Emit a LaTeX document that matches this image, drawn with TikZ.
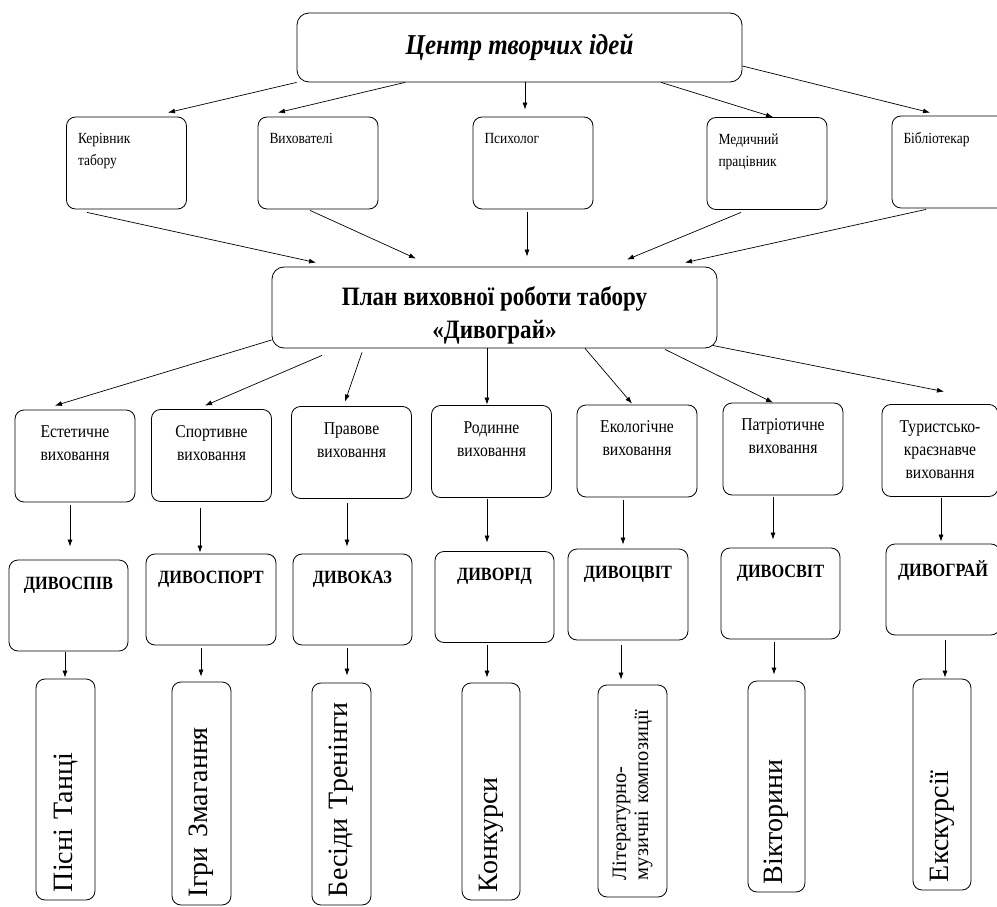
\documentclass[tikz,border=0pt]{standalone}
\usepackage{fontspec}
\setmainfont{Liberation Serif}[FakeStretch=0.87]
\newfontfamily\actfont{Liberation Serif}
\usetikzlibrary{arrows.meta}

\begin{document}
\begin{tikzpicture}[x=1pt,y=-1pt,
  box/.style={draw, line width=0.8pt, rounded corners=9pt, inner sep=0pt},
  head/.style={box, minimum width=445pt, rounded corners=12pt, align=center},
  staff/.style={box, minimum width=120pt, minimum height=92pt, font=\fontsize{15.5}{22.5}\selectfont,
    execute at begin node={\begin{minipage}[c][92pt][t]{97pt}\vspace*{16pt}\raggedright},
    execute at end node={\end{minipage}}},
  kind/.style={box, minimum width=120pt, minimum height=92pt, font=\fontsize{18}{23}\selectfont,
    execute at begin node={\begin{minipage}[c][92pt][t]{112pt}\vspace*{16pt}\centering},
    execute at end node={\end{minipage}}},
  club/.style={box, minimum width=119pt, minimum height=91pt, font=\bfseries\fontsize{18.7}{23}\selectfont,
    execute at begin node={\begin{minipage}[c][91pt][t]{112pt}\vspace*{17pt}\centering},
    execute at end node={\end{minipage}}},
  act/.style={box, rotate=90, inner xsep=8pt, text width=#1, align=left, minimum height=59pt,
    font=\actfont\fontsize{28}{30}\selectfont},
  arr/.style={-{Latex[length=7pt,width=5pt]}, line width=0.7pt}]
\path[use as bounding box, clip] (0,0) rectangle (997,907);

\node[head, minimum height=69pt, font=\bfseries\itshape\fontsize{28.75}{30}\selectfont] (centr) at (519.5,47.5) {Центр творчих ідей};

\node[staff] (kerivnyk) at (126.5,163) {Керівник\\табору};
\node[staff] (vykhovateli) at (318,163) {Вихователі};
\node[staff] (psykholoh) at (533,163) {Психолог};
\node[staff] (medyk) at (767,163.5) {Медичний\\працівник};
\node[staff] (bibliotekar) at (952,162) {Бібліотекар};

\node[head, minimum height=81pt, font=\bfseries\fontsize{26.5}{33}\selectfont,
  execute at begin node={\begin{minipage}[c][81pt][t]{440pt}\vspace*{20pt}\centering},
  execute at end node={\end{minipage}}] (plan) at (494.5,307.5) {План виховної роботи табору\\«Дивограй»};

\node[kind] (estet) at (75,456) {Естетичне\\виховання};
\node[kind] (sport) at (211.5,455.5) {Спортивне\\виховання};
\node[kind] (pravo) at (351.5,452.5) {Правове\\виховання};
\node[kind] (rodyna) at (491.5,451.5) {Родинне\\виховання};
\node[kind] (ekolog) at (637,451) {Екологічне\\виховання};
\node[kind] (patriot) at (783,449) {Патріотичне\\виховання};
\node[kind, minimum width=116pt] (turyst) at (940,450.5) {Туристсько-\\краєзнавче\\виховання};

\node[club] (dyvospiv) at (68.5,605.5) {ДИВОСПІВ};
\node[club, minimum width=130pt] (dyvosport) at (211,599.5) {ДИВОСПОРТ};
\node[club] (dyvokaz) at (352.5,599.5) {ДИВОКАЗ};
\node[club] (dyvorid) at (494.5,597) {ДИВОРІД};
\node[club, minimum width=120pt] (dyvotsvit) at (628,594.5) {ДИВОЦВІТ};
\node[club] (dyvosvit) at (780.5,593.5) {ДИВОСВІТ};
\node[club, minimum width=114pt] (dyvohrai) at (943,589.5) {ДИВОГРАЙ};

\node[act=205pt] (pisni) at (65.5,789.5) {Пісні Танці};
\node[act=207pt] (ihry) at (201.5,793.5) {Ігри Змагання};
\node[act=206pt] (besidy) at (341.5,794) {Бесіди Тренінги};
\node[act=201pt, minimum height=58pt] (konkursy) at (491,791.5) {Конкурси};
\node[act=194pt, inner xsep=9pt, minimum height=69pt, font=\actfont\fontsize{20.5}{22}\selectfont] (liter) at (632.5,791) {\hspace*{8pt}Літературно-\\\hspace*{8pt}музичні композиції};
\node[act=195pt, minimum height=57pt] (viktoryny) at (776.5,786.5) {Вікторини};
\node[act=195pt, minimum height=58pt] (ekskursii) at (942,784.5) {Екскурсії};

\draw[arr] (centr.south west) -- ([xshift=41.5pt,yshift=4pt]kerivnyk.north);
\draw[arr] ([xshift=-114.5pt]centr.south) -- ([xshift=-40pt,yshift=4pt]vykhovateli.north);
\draw[arr] ([xshift=5.5pt]centr.south) -- ([xshift=-8pt,yshift=7pt]psykholoh.north);
\draw[arr] ([xshift=141.5pt]centr.south) -- ([xshift=6pt]medyk.north);
\draw[arr] ([yshift=-18.5pt]centr.east) -- ([xshift=-22pt,yshift=3pt]bibliotekar.north);

\draw[arr] ([xshift=-39.5pt,yshift=-3pt]kerivnyk.south) -- ([xshift=-178.5pt,yshift=4pt]plan.north);
\draw[arr] ([xshift=-8pt,yshift=-1pt]vykhovateli.south) -- ([xshift=-78.5pt,yshift=8pt]plan.north);
\draw[arr] ([xshift=-6pt,yshift=-3pt]psykholoh.south) -- ([xshift=32.5pt,yshift=10pt]plan.north);
\draw[arr] ([xshift=-26pt,yshift=-2.5pt]medyk.south) -- ([xshift=132.5pt,yshift=7pt]plan.north);
\draw[arr] ([xshift=-26pt,yshift=-1pt]bibliotekar.south) -- ([xshift=190.5pt,yshift=4pt]plan.north);

\draw[arr] ([yshift=-32.5pt]plan.west) -- ([xshift=-20pt,yshift=4pt]estet.north);
\draw[arr] ([xshift=-172.5pt,yshift=-7pt]plan.south) -- ([xshift=-6.5pt,yshift=3.5pt]sport.north);
\draw[arr] ([xshift=-132.5pt,yshift=-4pt]plan.south) -- ([xshift=-6.5pt,yshift=4.5pt]pravo.north);
\draw[arr] ([xshift=-7.5pt]plan.south) -- ([xshift=-4.5pt,yshift=0.5pt]rodyna.north);
\draw[arr] ([xshift=90.5pt]plan.south) -- ([xshift=-5pt,yshift=1pt]ekolog.north);
\draw[arr] ([xshift=170.5pt,yshift=-1pt]plan.south) -- ([xshift=-10pt]patriot.north);
\draw[arr] ([xshift=-5pt,yshift=3pt]plan.south east) -- ([xshift=4pt,yshift=12.5pt]turyst.north);

\draw[arr] ([xshift=-5pt,yshift=-3pt]estet.south) -- ([xshift=1.5pt,yshift=13pt]dyvospiv.north);
\draw[arr] ([xshift=-11.5pt,yshift=-6.5pt]sport.south) -- ([xshift=-11pt,yshift=1pt]dyvosport.north);
\draw[arr] ([xshift=-4.5pt,yshift=-4.5pt]pravo.south) -- ([xshift=-5.5pt,yshift=7pt]dyvokaz.north);
\draw[arr] ([xshift=-4.5pt,yshift=-1.5pt]rodyna.south) -- ([xshift=-7.5pt,yshift=8.5pt]dyvorid.north);
\draw[arr] ([xshift=-14pt,yshift=-3pt]ekolog.south) -- ([xshift=-5pt,yshift=4pt]dyvotsvit.north);
\draw[arr] ([xshift=-10pt,yshift=-2pt]patriot.south) -- ([xshift=-7.5pt,yshift=8pt]dyvosvit.north);
\draw[arr] ([xshift=1pt,yshift=-1.5pt]turyst.south) -- ([xshift=-2pt,yshift=2pt]dyvohrai.north);

\draw[arr] ([xshift=-3.5pt,yshift=-1pt]dyvospiv.south) -- ([xshift=-0.5pt,yshift=1pt]pisni.east);
\draw[arr] ([xshift=-10pt,yshift=-3pt]dyvosport.south) -- ([xshift=-0.5pt,yshift=5pt]ihry.east);
\draw[arr] ([xshift=-5.5pt,yshift=-3pt]dyvokaz.south) -- ([xshift=5.5pt,yshift=7pt]besidy.east);
\draw[arr] ([xshift=-7.5pt,yshift=-2.5pt]dyvorid.south) -- ([xshift=-4pt,yshift=5pt]konkursy.east);
\draw[arr] ([xshift=-7pt,yshift=-5pt]dyvotsvit.south) -- ([xshift=-11.5pt,yshift=5pt]liter.east);
\draw[arr] ([xshift=-6.5pt,yshift=-3pt]dyvosvit.south) -- ([xshift=-2.5pt,yshift=6pt]viktoryny.east);
\draw[arr] ([xshift=2pt,yshift=-5pt]dyvohrai.south) -- ([xshift=3pt,yshift=1pt]ekskursii.east);
\end{tikzpicture}
\end{document}
